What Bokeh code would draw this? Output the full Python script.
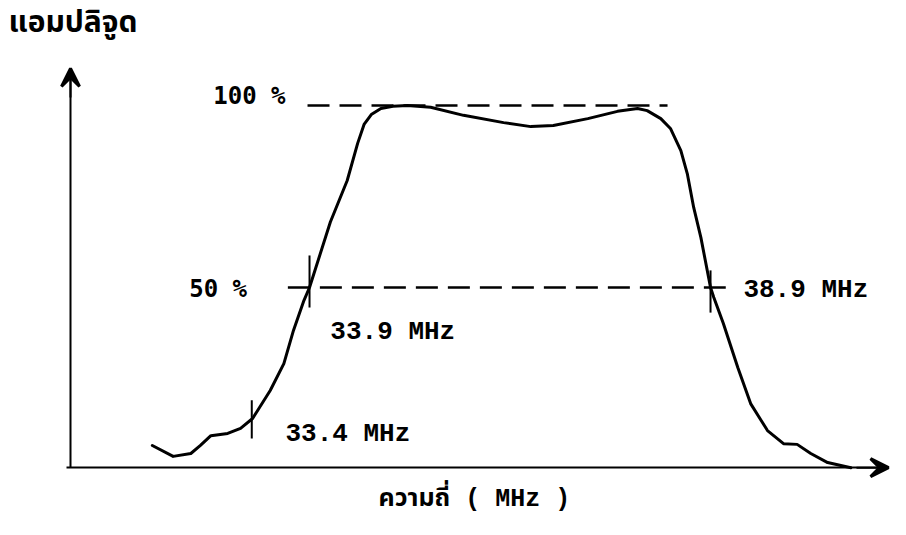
from bokeh.plotting import figure
from bokeh.models import Range1d, LinearAxis, Label, Arrow, VeeHead, FixedTicker
from bokeh.core.properties import value
from bokeh.embed import file_html
from bokeh.resources import INLINE

# ---- data (x in sketch-MHz, y in % amplitude) ----
freq = [31.94, 32.20, 32.42, 32.54, 32.67, 32.88, 33.04, 33.19, 33.41, 33.58,
        33.70, 33.83, 33.90, 34.16, 34.37, 34.50, 34.58, 34.67, 34.79, 34.94, 35.12,
        35.41, 35.82, 36.32, 36.66, 36.94, 37.37, 37.74, 37.99, 38.11, 38.28,
        38.40, 38.53, 38.61, 38.69, 38.78, 38.90, 38.94, 39.06, 39.24, 39.40,
        39.61, 39.81, 39.98, 40.15, 40.36, 40.65]
amp = [6.6, 3.6, 4.4, 6.6, 9.3, 9.9, 11.3, 14.0, 21.7, 29.1,
       38.2, 46.4, 50.0, 68.0, 79.4, 89.6, 94.8, 97.5, 99.2, 99.8, 100.0,
       99.5, 97.3, 95.3, 94.2, 94.5, 96.4, 98.4, 99.2, 98.6, 96.4,
       93.7, 87.6, 81.3, 72.0, 63.7, 50.0, 47.3, 40.1, 28.0, 18.1,
       10.7, 7.1, 6.9, 4.4, 1.9, 0.5]

levels = [100, 50]
level_labels = ["100 %", "50 %"]

marker_freq = [33.18, 33.90, 38.90]
marker_labels = ["33.4 MHz", "33.9 MHz", "38.9 MHz"]

y_title = "แอมปลิจูด"
x_title = "ความถี่ ( MHz )"

# ---- layout constants ----
W, H = 890, 519
FX0, FX1 = 30.047, 41.144      # frame extent (x) = whole canvas
FY0, FY1 = -13.74, 128.85      # frame extent (y) = whole canvas
AX_X, AX_Y = 30.92, 0.5        # where the two axes sit
X_TIP, Y_TIP = 41.12, 110.2    # arrow tips
level_x0 = [33.875, 33.63]
level_x1 = [38.364, 39.09]
level_label_x = [32.70, 32.40]
level_label_y = [102.5, 49.5]
marker_lo = [8.5, 44.5, 43.1]
marker_hi = [19.0, 58.8, 54.7]
marker_label_x = [33.60, 34.16, 39.31]
marker_label_y = [9.8, 37.9, 49.2]

thai_font = "Liberation Mono, Noto Sans Thai, Loma, Garuda, Norasi, Waree, sans-serif"

p = figure(width=W, height=H, x_range=Range1d(FX0, FX1), y_range=Range1d(FY0, FY1),
           output_backend="svg", toolbar_location=None,
           x_axis_type=None, y_axis_type=None,
           min_border_left=0, min_border_right=0, min_border_top=0, min_border_bottom=0)
p.outline_line_color = None
p.background_fill_color = "white"
p.border_fill_color = "white"

yax = LinearAxis(ticker=FixedTicker(ticks=[]), fixed_location=AX_X, bounds=(AX_Y, Y_TIP))
xax = LinearAxis(ticker=FixedTicker(ticks=[]), fixed_location=AX_Y, bounds=(AX_X - 0.05, X_TIP))
for ax in (yax, xax):
    ax.axis_line_width = 2
    ax.axis_line_color = "black"
    ax.major_tick_line_color = None
    ax.minor_tick_line_color = None
    ax.major_tick_out = 0
    ax.major_tick_in = 0
    ax.minor_tick_out = 0
    ax.minor_tick_in = 0
    ax.major_label_standoff = 0
    ax.major_label_text_font_size = "0px"
p.add_layout(yax, "left")
p.add_layout(xax, "below")

# arrow heads on the axes
p.add_layout(Arrow(end=VeeHead(size=18, fill_color="black", line_color="black", line_width=3),
                   x_start=AX_X, y_start=Y_TIP - 8, x_end=AX_X, y_end=Y_TIP,
                   line_width=2, line_color="black"))
p.add_layout(Arrow(end=VeeHead(size=18, fill_color="black", line_color="black", line_width=3),
                   x_start=X_TIP - 0.4, y_start=AX_Y, x_end=X_TIP, y_end=AX_Y,
                   line_width=2, line_color="black"))

# response curve
p.line(freq, amp, line_width=3, line_color="black", line_join="round", line_cap="round")

# dashed reference levels
p.segment(x0=level_x0, y0=levels, x1=level_x1, y1=levels,
          line_dash="22 10", line_width=2.5, line_color="black")
p.text(x=level_label_x, y=level_label_y, text=level_labels,
       text_font=value("DejaVu Sans Mono"), text_font_style="bold",
       text_font_size="24px", text_baseline="middle", text_align="left", text_color="black")

# frequency markers
p.segment(x0=marker_freq, y0=marker_lo, x1=marker_freq, y1=marker_hi,
          line_width=2, line_color="black")
p.text(x=marker_label_x, y=marker_label_y, text=marker_labels,
       text_font=value("Liberation Mono"), text_font_style="bold",
       text_font_size="26px", text_baseline="middle", text_align="left", text_color="black")

# titles (screen units, measured from the frame's bottom-left)
p.add_layout(Label(x=8, y=H - 23, x_units="screen", y_units="screen", text=y_title,
                   text_font=thai_font, text_font_style="bold", text_font_size="30px",
                   text_baseline="middle", text_align="left", text_color="black"))
p.add_layout(Label(x=378, y=H - 499, x_units="screen", y_units="screen", text=x_title,
                   text_font=thai_font, text_font_style="bold", text_font_size="25px",
                   text_baseline="middle", text_align="left", text_color="black"))

open("out.html", "w").write(file_html(p, INLINE))
